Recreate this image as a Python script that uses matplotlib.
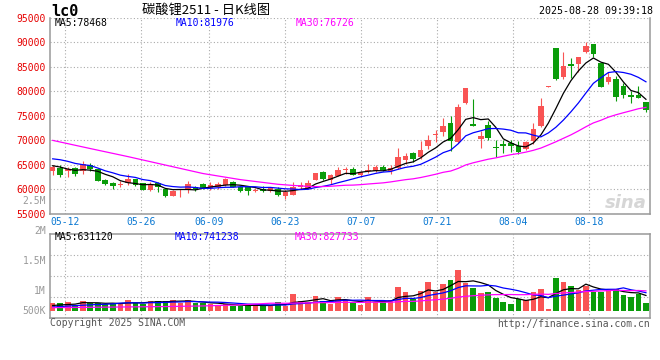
import matplotlib
matplotlib.use('Agg')
import matplotlib.pyplot as plt
import numpy as np
import pandas as pd

# daily candles for lc2511, 2025-05-08 .. 2025-08-28 (80 sessions)
opens = [63730, 64290, 63730, 64290, 63730, 65000, 64080, 61900, 61390, 60940,
         61220, 62040, 61220, 59960, 61220, 60120, 58690, 59860, 60160, 60530,
         61020, 60200, 60410, 60880, 61550, 60410, 60410, 59690, 60160, 59590,
         60000, 58630, 58900, 60530, 60060, 61900, 63530, 61900, 62780, 63880,
         64140, 62920, 63740, 63740, 64610, 63800, 64290, 65980, 67350, 66650,
         68840, 71080, 71760, 73590, 69720, 77550, 73330, 70210, 73120, 68700,
         69190, 69390, 68840, 68160, 69860, 72920, 80980, 88780, 82980, 85510,
         85510, 88080, 89660, 85840, 81960, 82510, 81080, 79250, 79250, 77760]
highs = [64960, 64960, 64550, 64490, 65780, 65370, 64200, 62100, 61550, 61800,
         63120, 62170, 61390, 61490, 61490, 60330, 59860, 60060, 61760, 60740,
         61350, 61430, 61550, 62250, 61760, 60670, 60740, 60200, 60670, 60260,
         60410, 59760, 61550, 61490, 61900, 63330, 63800, 63060, 64550, 64610,
         64610, 63740, 65160, 64960, 64960, 64960, 68490, 67350, 67670, 69920,
         71080, 72100, 74610, 74960, 77350, 80670, 78370, 71900, 74000, 70060,
         70060, 70060, 69860, 69860, 73590, 78570, 81140, 88840, 88080, 86860,
         87000, 90130, 89660, 85840, 83880, 83190, 81760, 80060, 81080, 77880]
lows = [62920, 62570, 62570, 62710, 63190, 63740, 61690, 60880, 60160, 60530,
        60880, 60740, 59800, 59710, 59510, 58330, 58690, 58490, 59350, 59710,
        60000, 59860, 60060, 60740, 60410, 59510, 58840, 59390, 59390, 59510,
        58630, 57960, 58740, 60060, 60000, 61840, 61900, 61080, 62650, 63230,
        62830, 62780, 63270, 63590, 63740, 63120, 64140, 65100, 65510, 66180,
        68160, 69720, 70940, 67820, 69510, 77410, 72920, 68490, 70060, 66650,
        67350, 67670, 67140, 68020, 69250, 72780, 80940, 82410, 82450, 82780,
        84000, 87760, 87070, 80940, 81490, 78020, 78570, 77550, 78700, 75720]
closes = [64610, 62920, 64250, 63230, 65100, 64080, 61760, 61140, 60740, 61140,
          62040, 60880, 59860, 61080, 60470, 58630, 59650, 60000, 61080, 60060,
          60330, 60880, 61020, 62040, 60530, 59710, 59710, 59820, 59650, 60200,
          58900, 59450, 60530, 60940, 61230, 63270, 62100, 62920, 63940, 64080,
          62920, 63600, 63880, 64610, 63940, 64410, 66650, 66860, 66180, 68020,
          70060, 71230, 72920, 69860, 76860, 80610, 72980, 70880, 70530, 68370,
          68840, 68900, 67670, 69590, 72310, 77000, 81080, 82450, 85170, 85170,
          87000, 89250, 87560, 80940, 82980, 78900, 79250, 78900, 78700, 76190]
volumes = [329000, 317000, 370000, 235000, 412000, 305000, 305000, 263000, 263000, 329000,
           440000, 329000, 263000, 399000, 412000, 412000, 440000, 305000, 440000, 305000,
           305000, 263000, 235000, 263000, 193000, 193000, 193000, 263000, 235000, 193000,
           370000, 193000, 687000, 399000, 370000, 605000, 412000, 276000, 551000, 440000,
           370000, 235000, 551000, 370000, 370000, 440000, 988000, 782000, 481000, 823000,
           1193000, 782000, 1099000, 1263000, 1675000, 1152000, 947000, 741000, 782000, 535000,
           370000, 276000, 481000, 440000, 782000, 893000, 70000, 1358000, 1193000, 1029000,
           852000, 1029000, 782000, 757000, 852000, 893000, 646000, 576000, 687000, 329000]

date_idx = [2, 12, 21, 31, 41, 51, 61, 71]
date_labels = ['05-12', '05-26', '06-09', '06-23', '07-07', '07-21', '08-04', '08-18']

# moving averages before the window fills
ma5_head = [64820, 64550, 64140, 63880]
ma10_head = [66230, 66040, 65720, 65290, 65040, 64860, 64350, 63780, 63370]
ma30_head_idx = [0, 5, 10, 15, 20, 25]
ma30_head = [70000, 68330, 66690, 64960, 63230, 61980]
vol_ma5_head = [215000, 235000, 255000, 270000]
vol_ma10_head = [150000, 170000, 190000, 210000, 225000, 240000, 255000, 265000, 280000]
vol_ma30_head = [125000, 140000, 155000, 170000, 195000, 240000]

price_ma_now = [78468, 81976, 76726]
vol_ma_now = [631120, 741238, 827733]
vol_axis_labels = ['2.5M', '2M', '1.5M', '1M', '500K']

RED = '#f95454'
GREEN = '#0a9c0a'
GRID = '#aaaaaa'
MA_COLORS = ['black', '#0000ff', '#ff00ff']
MONO = 'DejaVu Sans Mono'

n = len(closes)
x = np.arange(n)
o = np.array(opens)
c = np.array(closes)
colors = np.where(c >= o, RED, GREEN)


def ma_line(values, window, head, head_idx=None):
    s = pd.Series(values, dtype=float).rolling(window).mean()
    if head_idx is None:
        head_idx = list(range(window - 1))
    xs = list(head_idx) + list(range(window - 1, n))
    ys = list(head) + list(s.iloc[window - 1:])
    return xs, ys


fig = plt.figure(figsize=(6.6, 3.6), dpi=100)
ax = fig.add_axes([50 / 660, 1 - 213.8 / 360, 600 / 660, 195.8 / 360])
axv = fig.add_axes([50 / 660, 1 - 318.3 / 360, 600 / 660, 84 / 360])

x0, x1 = -0.36, n - 0.46
grid_x = [x0 + d * (x1 - x0) / (n - 1) for d in date_idx]

# price panel
ax.vlines(x, lows, highs, colors=colors, linewidth=0.8, zorder=3)
body_lo = np.minimum(o, c)
body_h = np.maximum(np.abs(c - o), 200)
ax.bar(x, body_h, bottom=body_lo, width=0.74, color=colors, linewidth=0, zorder=3)

for (xs, ys), col in zip([ma_line(closes, 5, ma5_head),
                          ma_line(closes, 10, ma10_head),
                          ma_line(closes, 30, ma30_head, ma30_head_idx)], MA_COLORS):
    ax.plot(xs, ys, color=col, linewidth=0.9, zorder=4)

ax.set_xlim(x0, x1)
ax.set_ylim(55000, 95000)
ax.set_yticks(range(55000, 95001, 5000))
ax.set_yticklabels([str(v) for v in range(55000, 95001, 5000)], family=MONO)
ax.set_xticks(grid_x)
ax.set_xticklabels(date_labels, family=MONO)
ax.tick_params(axis='y', length=0, pad=3, labelsize=7, labelcolor='#e60000')
ax.tick_params(axis='x', length=0, pad=2.5, labelsize=7, labelcolor='#0a78d2')
ax.grid(True, color=GRID, linestyle=(0, (1, 2)), linewidth=0.8)
ax.set_axisbelow(True)
ax.spines['top'].set_visible(False)
for side in ['left', 'right', 'bottom']:
    ax.spines[side].set_color('#999999')
    ax.spines[side].set_linewidth(1.1)

for xf, name, val, col in zip([0.008, 0.209, 0.41], ['MA5', 'MA10', 'MA30'], price_ma_now, MA_COLORS):
    ax.text(xf, 0.972, f'{name}:{val}', transform=ax.transAxes, color=col,
            fontsize=7, family=MONO, va='center')

ax.text(0.995, 0.055, 'sina', transform=ax.transAxes, ha='right', va='center',
        fontsize=13, fontstyle='italic', fontweight='bold', color='#d6d6d6', zorder=1)

# volume panel
axv.bar(x, volumes, width=0.74, color=colors, linewidth=0, zorder=3)
for (xs, ys), col in zip([ma_line(volumes, 5, vol_ma5_head),
                          ma_line(volumes, 10, vol_ma10_head),
                          ma_line(volumes, 30, vol_ma30_head, ma30_head_idx)], MA_COLORS):
    axv.plot(xs, ys, color=col, linewidth=0.9, zorder=4)

vlo, vhi = -313000, 3144000
axv.set_xlim(x0, x1)
axv.set_ylim(vlo, vhi)
axv.set_xticks(grid_x)
axv.set_xticklabels([])
axv.set_yticks(np.linspace(vlo, vhi, 5)[1:-1])
axv.set_yticklabels([])
axv.tick_params(length=0)
axv.grid(True, color=GRID, linestyle=(0, (1, 2)), linewidth=0.8)
axv.set_axisbelow(True)
for side in axv.spines:
    axv.spines[side].set_color('#999999')
    axv.spines[side].set_linewidth(1.1)

for xf, name, val, col in zip([0.008, 0.208, 0.408], ['MA5', 'MA10', 'MA30'], vol_ma_now, MA_COLORS):
    axv.text(xf, 0.962, f'{name}:{val}', transform=axv.transAxes, color=col,
             fontsize=7, family=MONO, va='center')

for lab, yf in zip(vol_axis_labels, [1.40, 1.045, 0.683, 0.326, 0.09]):
    axv.text(-0.0067, yf, lab, transform=axv.transAxes, ha='right', va='center',
             fontsize=7, family=MONO, color='#999999')

# header / footer
fig.text(51 / 660, 1 - 11.5 / 360, 'lc0', fontsize=11, fontweight='bold', family=MONO, va='center')
fig.text(141.7 / 660, 1 - 10.5 / 360, '碳酸锂2511 - 日K线图', fontsize=9.5, va='center',
         family=['Noto Sans CJK SC', 'DejaVu Sans'])
fig.text(653 / 660, 1 - 11 / 360, '2025-08-28 09:39:18', ha='right', va='center',
         fontsize=7.2, family=MONO)
fig.text(50 / 660, 1 - 323.5 / 360, 'Copyright 2025 SINA.COM', va='center',
         fontsize=7, family=MONO, color='#555555')
fig.text(650 / 660, 1 - 324 / 360, 'http://finance.sina.com.cn', ha='right', va='center',
         fontsize=7, family=MONO, color='#555555')

fig.savefig('out.png', dpi=100)
